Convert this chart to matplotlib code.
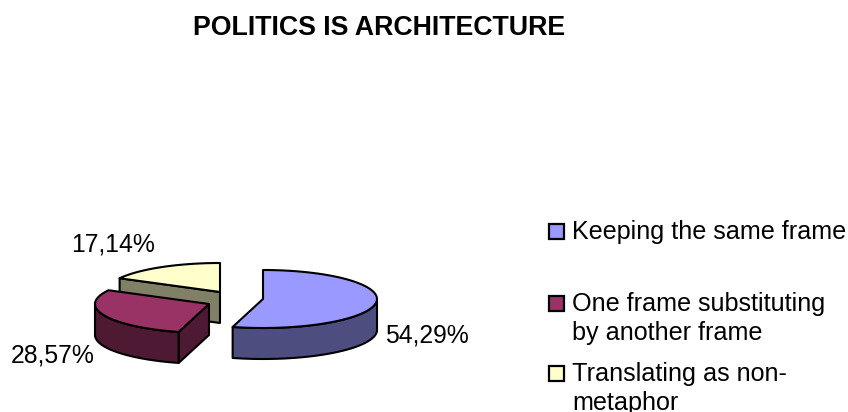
import numpy as np
import matplotlib
matplotlib.use("Agg")
import matplotlib.pyplot as plt
from matplotlib.patches import Polygon, Rectangle

plt.rcParams['font.family'] = ['Liberation Sans', 'DejaVu Sans']

title = "POLITICS IS ARCHITECTURE"
categories = ["Keeping the same frame", "One frame substituting\nby another frame", "Translating as non-\nmetaphor"]
values = [54.29, 28.57, 17.14]
value_labels = ["54,29%", "28,57%", "17,14%"]

top_colors = ["#9999FF", "#993366", "#FFFFCC"]
side_colors = ["#4D4D80", "#4D1933", "#808066"]

# exploded slice centres and ellipse size, in pixels
centers = [(263, 299), (209, 304), (220, 292)]
rx = 114
ry = 29
depth = 31

label_pos = [(426.5, 335), (52.5, 355), (113.5, 244)]
legend_y = [231, 303, 373]

fig = plt.figure(figsize=(8.48, 4.12), dpi=100)
ax = fig.add_axes([0, 0, 1, 1])
ax.set_xlim(0, 848)
ax.set_ylim(412, 0)
ax.axis("off")

def rim(cx, cy, a0, a1):
    # angles run clockwise from 12 o'clock
    t = np.radians(np.linspace(a0, a1, 80))
    return np.column_stack([cx + rx * np.sin(t), cy - ry * np.cos(t)])

def drop(pts):
    return pts + np.array([0, depth])

starts = np.concatenate([[0], np.cumsum(values)[:-1]]) * 3.6
ends = np.cumsum(values) * 3.6

# back slices first so the nearer ones cover them
for i in [2, 1, 0]:
    cx, cy = centers[i]
    a0, a1 = starts[i], ends[i]
    style = dict(edgecolor="black", linewidth=1.5, joinstyle="round")

    # cut face, only seen when it looks toward the viewer
    if a0 > 180:
        edge = np.vstack([rim(cx, cy, a0, a0), [[cx, cy]]])
        face = np.vstack([edge, drop(edge)[::-1]])
        ax.add_patch(Polygon(face, facecolor=side_colors[i], **style))

    # outer wall along the lower half of the ellipse
    lo, hi = max(a0, 90), min(a1, 270)
    if lo < hi:
        arc = rim(cx, cy, lo, hi)
        wall = np.vstack([arc, drop(arc)[::-1]])
        ax.add_patch(Polygon(wall, facecolor=side_colors[i], **style))

    top = np.vstack([[[cx, cy]], rim(cx, cy, a0, a1)])
    ax.add_patch(Polygon(top, facecolor=top_colors[i], **style))

for txt, (x, y) in zip(value_labels, label_pos):
    ax.text(x, y, txt, fontsize=17.8, ha="center", va="center", color="black")

for cat, col, y in zip(categories, top_colors, legend_y):
    ax.add_patch(Rectangle((549, y - 7), 15, 15, facecolor=col, edgecolor="black", linewidth=1.6))
    ax.text(572, y - 11, cat, fontsize=18.1, ha="left", va="top", color="black", linespacing=1.26)

ax.text(379.5, 28, title, fontsize=19.3, fontweight="bold", ha="center", va="center", color="black")

fig.savefig("out.png", dpi=100)
